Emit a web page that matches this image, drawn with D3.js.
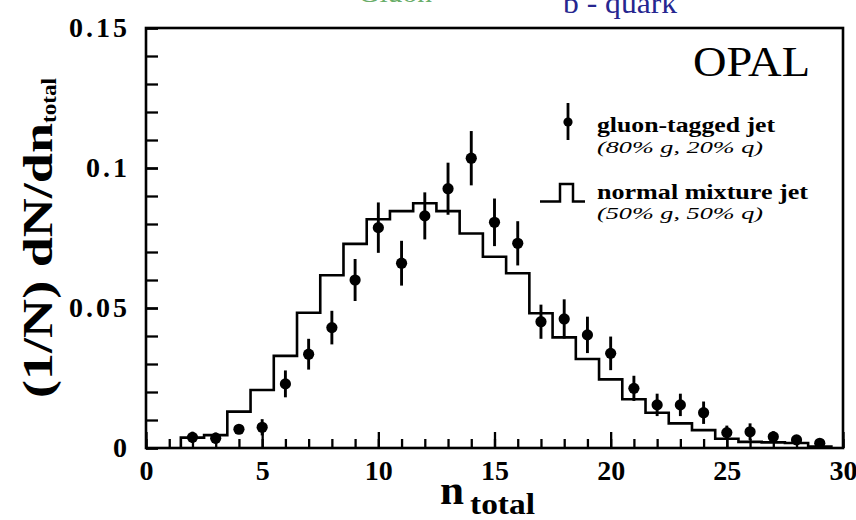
<!DOCTYPE html>
<html>
<head>
<meta charset="utf-8">
<script src="https://cdn.jsdelivr.net/npm/d3@7"></script>
<style>
  html, body { margin: 0; padding: 0; background: #ffffff; }
  svg { display: block; }
  text { font-family: "Liberation Serif", "Times New Roman", serif; fill: #000; }
</style>
</head>
<body>
<svg id="chart" width="856" height="520"></svg>
<script>
// Charged multiplicity n_total per event, normalised distributions
const nBins = [2, 3, 4, 5, 6, 7, 8, 9, 10, 11, 12, 13, 14, 15, 16,
               17, 18, 19, 20, 21, 22, 23, 24, 25, 26, 27, 28, 29];

// gluon-tagged jets (points with statistical errors)
const gluonValues = [0.0038, 0.0035, 0.0067, 0.0074, 0.0229, 0.0335, 0.0430, 0.0600,
                     0.0787, 0.0660, 0.0829, 0.0926, 0.1035, 0.0806, 0.0731, 0.0451,
                     0.0461, 0.0404, 0.0338, 0.0213, 0.0154, 0.0154, 0.0126, 0.0055,
                     0.0058, 0.0040, 0.0029, 0.0017];
const gluonErrors = [0.0020, 0.0020, 0.0015, 0.0029, 0.0048, 0.0055, 0.0060, 0.0075,
                     0.0090, 0.0080, 0.0084, 0.0093, 0.0097, 0.0085, 0.0079, 0.0061,
                     0.0070, 0.0065, 0.0060, 0.0045, 0.0040, 0.0040, 0.0040, 0.0025,
                     0.0030, 0.0020, 0.0015, 0.0012];

// normal mixture jets (histogram)
const mixtureValues = [0.0037, 0.0046, 0.0130, 0.0207, 0.0329, 0.0483, 0.0617, 0.0729,
                       0.0817, 0.0846, 0.0874, 0.0846, 0.0766, 0.0683, 0.0624, 0.0481,
                       0.0395, 0.0318, 0.0245, 0.0174, 0.0126, 0.0088, 0.0064, 0.0033,
                       0.0022, 0.0020, 0.0018, 0.0005];

const xMajorTicks = [0, 5, 10, 15, 20, 25, 30];
const xMinorTicks = d3.range(0, 31, 1);
const yMajorTicks = [0, 0.05, 0.1, 0.15];
const yMajorLabels = ["0", "0.05", "0.1", "0.15"];
const yMinorTicks = d3.range(0, 16, 1).map(d => d / 100);

const svg = d3.select("#chart");
const plot = { left: 146, right: 843, top: 28, bottom: 448 };

const x = d3.scaleLinear().domain([0, 30]).range([plot.left, plot.right]);
const y = d3.scaleLinear().domain([0, 0.15]).range([plot.bottom, plot.top]);

// headings above the frame (partly outside the page)
svg.append("text").attr("x", 358).attr("y", 2)
  .attr("font-size", 28).attr("textLength", 74).attr("lengthAdjust", "spacingAndGlyphs")
  .style("fill", "#6aae6a").text("Gluon");
svg.append("text").attr("x", 563).attr("y", 13)
  .attr("font-size", 29).attr("textLength", 114).attr("lengthAdjust", "spacingAndGlyphs")
  .style("fill", "#26268f").text("b - quark");

// minor ticks
svg.append("g").attr("transform", `translate(0,${plot.bottom})`)
  .call(d3.axisBottom(x).tickValues(xMinorTicks).tickSize(-9).tickFormat(""))
  .call(g => g.select(".domain").remove())
  .call(g => g.selectAll("line").attr("stroke", "#000").attr("stroke-width", 2.3));
svg.append("g").attr("transform", `translate(${plot.left},0)`)
  .call(d3.axisLeft(y).tickValues(yMinorTicks).tickSize(-12).tickFormat(""))
  .call(g => g.select(".domain").remove())
  .call(g => g.selectAll("line").attr("stroke", "#000").attr("stroke-width", 2.3));

// major ticks with labels
svg.append("g").attr("transform", `translate(0,${plot.bottom})`)
  .call(d3.axisBottom(x).tickValues(xMajorTicks).tickSize(-16).tickPadding(12)
        .tickFormat(d3.format("d")))
  .call(g => g.select(".domain").remove())
  .call(g => g.selectAll("line").attr("stroke", "#000").attr("stroke-width", 2.3))
  .call(g => g.selectAll("text").attr("font-family", "Liberation Serif")
        .attr("font-weight", "bold").attr("font-size", 28).style("fill", "#000"));

svg.append("g").attr("transform", `translate(${plot.left},0)`)
  .call(d3.axisLeft(y).tickValues(yMajorTicks).tickSize(-12).tickPadding(16)
        .tickFormat((d, i) => yMajorLabels[i]))
  .call(g => g.select(".domain").remove())
  .call(g => g.selectAll("line").attr("stroke", "#000").attr("stroke-width", 2.3))
  .call(g => g.selectAll("text").attr("font-family", "Liberation Serif")
        .attr("font-weight", "bold").attr("font-size", 28)
        .style("letter-spacing", "3px").style("fill", "#000"));

// frame
svg.append("rect")
  .attr("x", plot.left).attr("y", plot.top)
  .attr("width", plot.right - plot.left).attr("height", plot.bottom - plot.top)
  .attr("fill", "none").attr("stroke", "#000").attr("stroke-width", 2.6);

// mixture histogram as a step line
const stepPts = [[nBins[0] - 0.5, 0]]
  .concat(nBins.map((n, i) => [n - 0.5, mixtureValues[i]]))
  .concat([[nBins[nBins.length - 1] + 0.5, 0]]);
const stepLine = d3.line().x(d => x(d[0])).y(d => y(d[1])).curve(d3.curveStepAfter);
svg.append("path").attr("d", stepLine(stepPts))
  .attr("fill", "none").attr("stroke", "#000").attr("stroke-width", 2.6)
  .attr("stroke-linejoin", "miter");

// gluon-tagged points with error bars
const pts = svg.append("g");
nBins.forEach((n, i) => {
  const v = gluonValues[i], e = gluonErrors[i];
  pts.append("line")
    .attr("x1", x(n)).attr("x2", x(n))
    .attr("y1", y(Math.max(0, v - e))).attr("y2", y(v + e))
    .attr("stroke", "#000").attr("stroke-width", 2.9);
  pts.append("circle").attr("cx", x(n)).attr("cy", y(v)).attr("r", 5.6).attr("fill", "#000");
});

// experiment label
svg.append("text").attr("x", 693).attr("y", 76)
  .attr("font-size", 42).attr("textLength", 117).attr("lengthAdjust", "spacingAndGlyphs")
  .text("OPAL");

// legend
const lg = svg.append("g");
lg.append("line").attr("x1", 568).attr("x2", 568).attr("y1", 103).attr("y2", 140)
  .attr("stroke", "#000").attr("stroke-width", 2.8);
lg.append("circle").attr("cx", 568).attr("cy", 122).attr("r", 4.6).attr("fill", "#000");
lg.append("text").attr("x", 597).attr("y", 132)
  .attr("font-size", 20).attr("font-weight", "bold")
  .attr("textLength", 178).attr("lengthAdjust", "spacingAndGlyphs")
  .text("gluon-tagged jet");
lg.append("text").attr("x", 597).attr("y", 153)
  .attr("font-size", 17).attr("font-style", "italic")
  .attr("textLength", 166).attr("lengthAdjust", "spacingAndGlyphs")
  .text("(80% g, 20% q)");

lg.append("path").attr("d", "M540,201.5H560V184H573V201.5H585")
  .attr("fill", "none").attr("stroke", "#000").attr("stroke-width", 2.5);
lg.append("text").attr("x", 597).attr("y", 199)
  .attr("font-size", 20).attr("font-weight", "bold")
  .attr("textLength", 211).attr("lengthAdjust", "spacingAndGlyphs")
  .text("normal mixture jet");
lg.append("text").attr("x", 597).attr("y", 219)
  .attr("font-size", 17).attr("font-style", "italic")
  .attr("textLength", 166).attr("lengthAdjust", "spacingAndGlyphs")
  .text("(50% g, 50% q)");

// axis titles
svg.append("text").attr("x", 440).attr("y", 504)
  .attr("font-size", 40).attr("font-weight", "bold")
  .attr("textLength", 24).attr("lengthAdjust", "spacingAndGlyphs").text("n");
svg.append("text").attr("x", 470).attr("y", 514)
  .attr("font-size", 30).attr("font-weight", "bold")
  .attr("textLength", 65).attr("lengthAdjust", "spacingAndGlyphs").text("total");

svg.append("text").attr("transform", "translate(52,398) rotate(-90)")
  .attr("font-size", 42).attr("font-weight", "bold")
  .attr("textLength", 275).attr("lengthAdjust", "spacingAndGlyphs").text("(1/N) dN/dn");
svg.append("text").attr("transform", "translate(56,123) rotate(-90)")
  .attr("font-size", 21).attr("font-weight", "bold")
  .attr("textLength", 45).attr("lengthAdjust", "spacingAndGlyphs").text("total");
</script>
</body>
</html>
